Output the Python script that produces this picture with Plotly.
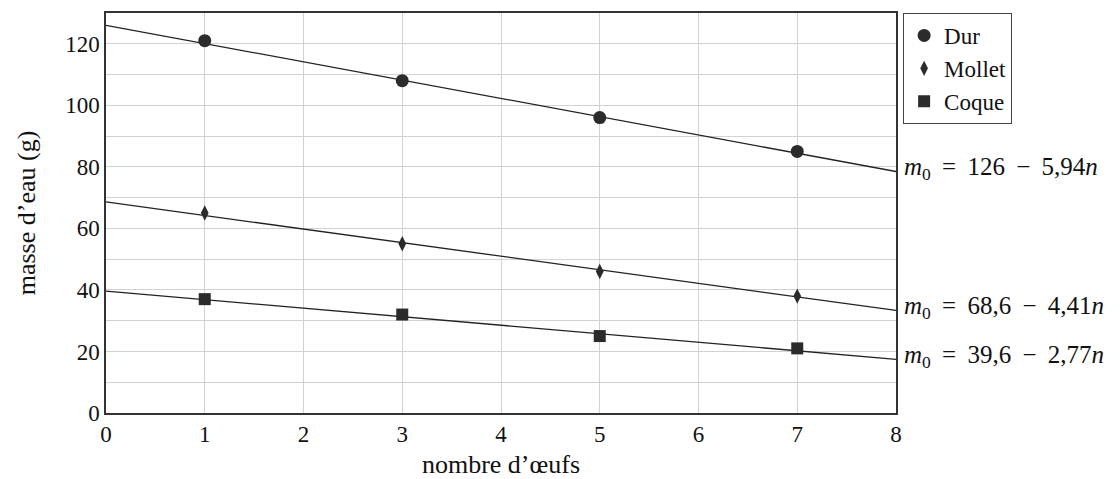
import numpy as np
import plotly.graph_objects as go

n_vals = [1, 3, 5, 7]
dur = [121, 108, 96, 85]
mollet = [65, 55, 46, 38]
coque = [37, 32, 25, 21]
series_names = ["Dur", "Mollet", "Coque"]
intercepts = [126, 68.6, 39.6]
slopes = [-5.94, -4.41, -2.77]
fit_labels = [("126", "5,94"), ("68,6", "4,41"), ("39,6", "2,77")]
x_ticks = [0, 1, 2, 3, 4, 5, 6, 7, 8]
y_ticks = [0, 20, 40, 60, 80, 100, 120]

FONT = "'Liberation Serif', 'Times New Roman', serif"
DARK = "#2b2b2b"
TS = "\u2009"
fig = go.Figure()

x_line = np.array([0, 8])
for b, a in zip(intercepts, slopes):
    fig.add_trace(go.Scatter(x=x_line, y=b + a * x_line, mode="lines",
                             line=dict(color="#222", width=1.3), showlegend=False, hoverinfo="skip"))

symbols = ["circle", "diamond-tall", "square"]
sizes = [13, 11, 12]
for name, ys, sym, sz in zip(series_names, [dur, mollet, coque], symbols, sizes):
    fig.add_trace(go.Scatter(x=n_vals, y=ys, mode="markers", name=name,
                             marker=dict(symbol=sym, size=sz, color=DARK, line=dict(width=0))))

for b, a, (c0, c1) in zip(intercepts, slopes, fit_labels):
    fig.add_annotation(x=8, y=b + 8 * a, xref="x", yref="y", xanchor="left", yanchor="middle",
                       xshift=6, yshift=3, showarrow=False,
                       text=f"<i>m</i><sub>0</sub>{TS} ={TS} {c0}{TS} −{TS} {c1}<i>n</i>",
                       font=dict(family=FONT, size=25, color="#111"))

fig.update_layout(
    width=1120, height=479,
    margin=dict(l=106, r=224, t=13, b=66),
    paper_bgcolor="white", plot_bgcolor="white",
    font=dict(family=FONT, size=22, color="#111"),
    showlegend=True,
    legend=dict(x=1.009, y=1.0, xanchor="left", yanchor="top",
                bordercolor="#444", borderwidth=1, bgcolor="white",
                font=dict(family=FONT, size=23), itemwidth=30, tracegroupgap=0),
    xaxis=dict(range=[0, 8], tickvals=x_ticks, showgrid=True, gridcolor="#d2d2d2", gridwidth=1,
               showline=True, linecolor="#333", linewidth=1.5, mirror=True, ticks="",
               zeroline=False, automargin=False, title=dict(text="nombre d’œufs", standoff=14),
               tickfont=dict(size=23)),
    yaxis=dict(range=[0, 130], tickvals=y_ticks, showgrid=True, gridcolor="#d2d2d2", gridwidth=1,
               minor=dict(dtick=10, showgrid=True, gridcolor="#d2d2d2", gridwidth=1),
               showline=True, linecolor="#333", linewidth=1.5, mirror=True, ticks="",
               zeroline=False, automargin=False, title=dict(text="masse d’eau (g)", standoff=22),
               tickfont=dict(size=23)),
)
fig.write_html("out.html", config={"displayModeBar": False},
               post_script="document.body.style.margin='0';document.body.style.overflow='hidden';")
